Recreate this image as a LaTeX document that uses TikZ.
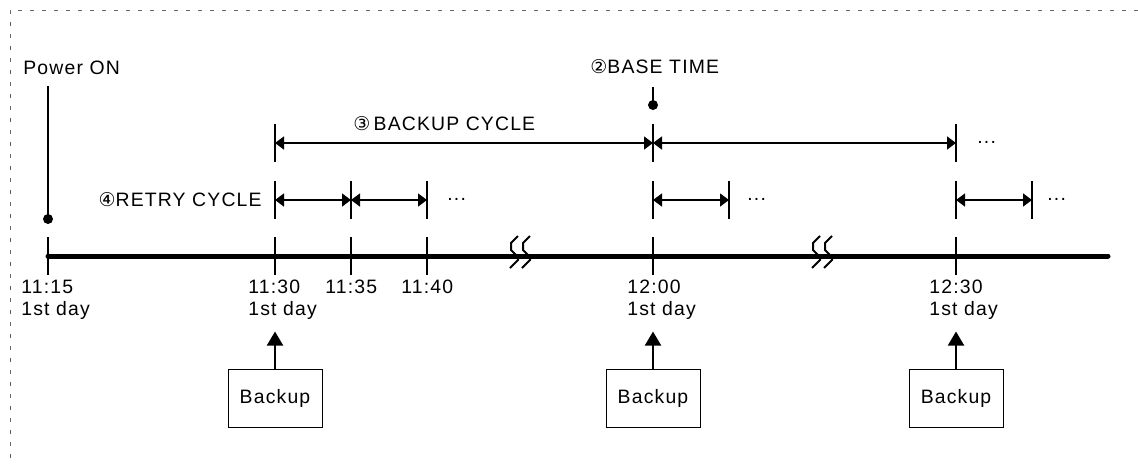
\documentclass[tikz,border=0pt]{standalone}
\usepackage{fontspec}
\setmainfont{Liberation Sans}[LetterSpace=6]
\newfontfamily\circfont{DejaVu Sans}
\usetikzlibrary{arrows.meta}
\newcommand{\circnum}[1]{{\circfont\fontsize{9.5}{9.5}\selectfont #1}}
\tikzset{
  tickline/.style={line width=1pt},
  cyclearrow/.style={line width=0.75pt, {Triangle[length=4.5pt,width=6.5pt]}-{Triangle[length=4.5pt,width=6.5pt]}},
  pusharrow/.style={line width=1pt, -{Triangle[length=7pt,width=8pt]}},
  breakline/.style={line width=1pt},
  timelbl/.style={inner sep=0pt, align=left, anchor=base west},
  lbl/.style={inner sep=0pt},
  backupbox/.style={draw, line width=0.5pt, minimum width=47pt, minimum height=29pt, inner sep=0pt}
}
\begin{document}
\begin{tikzpicture}[x=0.5pt,y=-0.5pt, font=\fontsize{9.7}{11}\selectfont]
\useasboundingbox (0,0) rectangle (1138,463);
% frame
\draw[gray!80!black, line width=0.5pt, dash pattern=on 2pt off 4pt] (1138,10) -- (10,10) -- (10,463);
% time axis
\coordinate (t1115) at (48,256);
\coordinate (tend) at (1108,256);
\draw[line width=2.5pt, line cap=round] (t1115) -- (tend);
\foreach \x in {48,275,351,427,653,956}
  \draw[tickline] (\x,237) -- (\x,275);
% breaks
\foreach \xb in {510,522,812,824}
  \draw[breakline] (\xb+8,236) -- (\xb+1,243) -- (\xb+1,250) -- (\xb+8,257) -- (\xb+8,260) -- (\xb,268);
% time labels
\node[timelbl] (l1115) at (21,315) {11:15\\1st day};
\node[timelbl] (l1130) at (248,315) {11:30\\1st day};
\node[timelbl] (l1135) at (325,293) {11:35};
\node[timelbl] (l1140) at (401,293) {11:40};
\node[timelbl] (l1200) at (627,315) {12:00\\1st day};
\node[timelbl] (l1230) at (929,315) {12:30\\1st day};
% power on
\node[lbl, anchor=base west] (pon) at (23,74) {Power ON};
\coordinate (pondot) at (48,219);
\fill (pondot) circle (5);
\draw[line width=0.6pt] (pondot) -- ++(0,-133);
% base time
\node[lbl, anchor=base west] (base) at (590,73) {\circnum{②}BASE TIME};
\coordinate (basedot) at (653,105);
\fill (basedot) circle (5);
\draw[line width=0.6pt] (basedot) -- ++(0,-18);
% backup cycle
\foreach \n/\x in {a/275,b/653,c/956} {
  \coordinate (c\n) at (\x,143);
  \draw[tickline] (c\n) ++(0,-19) -- ++(0,38);
}
\draw[cyclearrow] (ca) -- (cb);
\draw[cyclearrow] (cb) -- (cc);
\node[lbl, anchor=base west] (bcyc) at (353,130) {\circnum{③}\,BACKUP CYCLE};
\node[lbl, anchor=base west] (cdots) at (977,143) {...};
% retry cycle
\foreach \n/\x in {a/275,b/351,c/427,d/653,e/729,f/956,g/1032} {
  \coordinate (r\n) at (\x,200);
  \draw[tickline] (r\n) ++(0,-19) -- ++(0,38);
}
\draw[cyclearrow] (ra) -- (rb);
\draw[cyclearrow] (rb) -- (rc);
\draw[cyclearrow] (rd) -- (re);
\draw[cyclearrow] (rf) -- (rg);
\node[lbl, anchor=base east] (rcyc) at (262,206) {\circnum{④}RETRY CYCLE};
\node[lbl, anchor=base west] (rdots1) at (447,200) {...};
\node[lbl, anchor=base west] (rdots2) at (747,200) {...};
\node[lbl, anchor=base west] (rdots3) at (1047,200) {...};
% backup triggers
\foreach \n/\x in {1/275,2/653,3/956} {
  \node[backupbox] (bk\n) at (\x,398) {Backup};
  \draw[pusharrow] (bk\n.north) -- ++(0,-37);
}
\end{tikzpicture}
\end{document}
